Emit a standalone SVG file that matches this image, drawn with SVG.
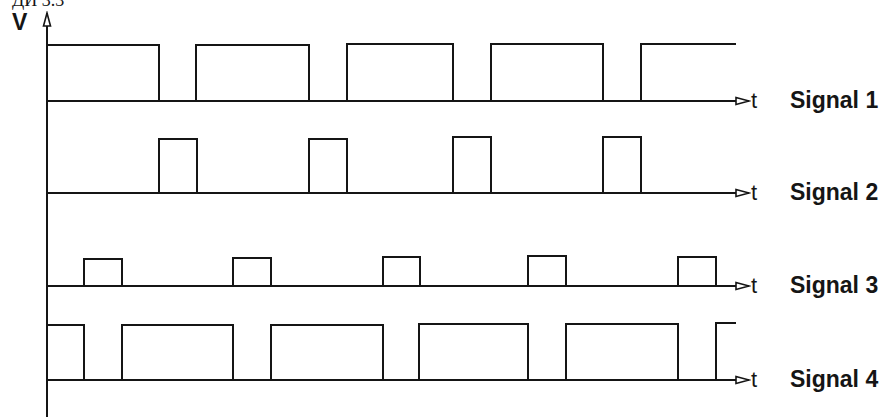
<svg xmlns="http://www.w3.org/2000/svg" width="885" height="417" viewBox="0 0 885 417">
<defs>
<style>
.w{fill:none;stroke:#151515;stroke-width:2;stroke-linejoin:miter;stroke-linecap:square}
.ax{fill:none;stroke:#151515;stroke-width:2}
.lbl{font-family:"Liberation Sans",Arial,sans-serif;font-weight:bold;font-size:23px;fill:#151515}
.t{font-family:"Liberation Sans",Arial,sans-serif;font-size:22px;fill:#151515}
</style>
<marker id="arr" markerWidth="16" markerHeight="10" refX="14" refY="5" orient="auto" markerUnits="userSpaceOnUse">
<path d="M1,1.5 L14,5 L1,8.5 Z" fill="#fff" stroke="#151515" stroke-width="1.6"/>
</marker>
</defs>
<rect width="885" height="417" fill="#fff"/>
<text x="12" y="6" font-family="Liberation Serif,serif" font-size="18" fill="#151515">ДИ 3.3</text>
<text x="12" y="30" class="lbl" font-size="19">V</text>
<g id="connectors">
<path class="ax" d="M47,417 V13" marker-end="url(#arr)"/>
<path class="ax" d="M47,101 H749" marker-end="url(#arr)"/>
<path class="ax" d="M47,193 H749" marker-end="url(#arr)"/>
<path class="ax" d="M47,286 H749" marker-end="url(#arr)"/>
<path class="ax" d="M47,380 H749" marker-end="url(#arr)"/>
</g>
<g id="signal1">
<path class="w" d="M47,45 H159 V101 M196,101 V45 H309 V101 M347,101 V44 H453 V101 M491,101 V44 H603 V101 M641,101 V44 H735"/>
<text x="751" y="108" class="t">t</text>
<text x="790" y="108" class="lbl">Signal 1</text>
</g>
<g id="signal2">
<path class="w" d="M159,193 V139 H197 V193 M309,193 V139 H347 V193 M453,193 V137 H491 V193 M603,193 V137 H641 V193"/>
<text x="751" y="200" class="t">t</text>
<text x="790" y="200" class="lbl">Signal 2</text>
</g>
<g id="signal3">
<path class="w" d="M84,286 V259 H122 V286 M233,286 V258 H271 V286 M383,286 V257 H420 V286 M528,286 V256 H566 V286 M678,286 V257 H716 V286"/>
<text x="751" y="293" class="t">t</text>
<text x="790" y="293" class="lbl">Signal 3</text>
</g>
<g id="signal4">
<path class="w" d="M47,325 H84 V380 M122,380 V325 H233 V380 M271,380 V325 H383 V380 M419,380 V324 H528 V380 M566,380 V324 H678 V380 M716,380 V323 H735"/>
<text x="751" y="387" class="t">t</text>
<text x="790" y="387" class="lbl">Signal 4</text>
</g>
</svg>
